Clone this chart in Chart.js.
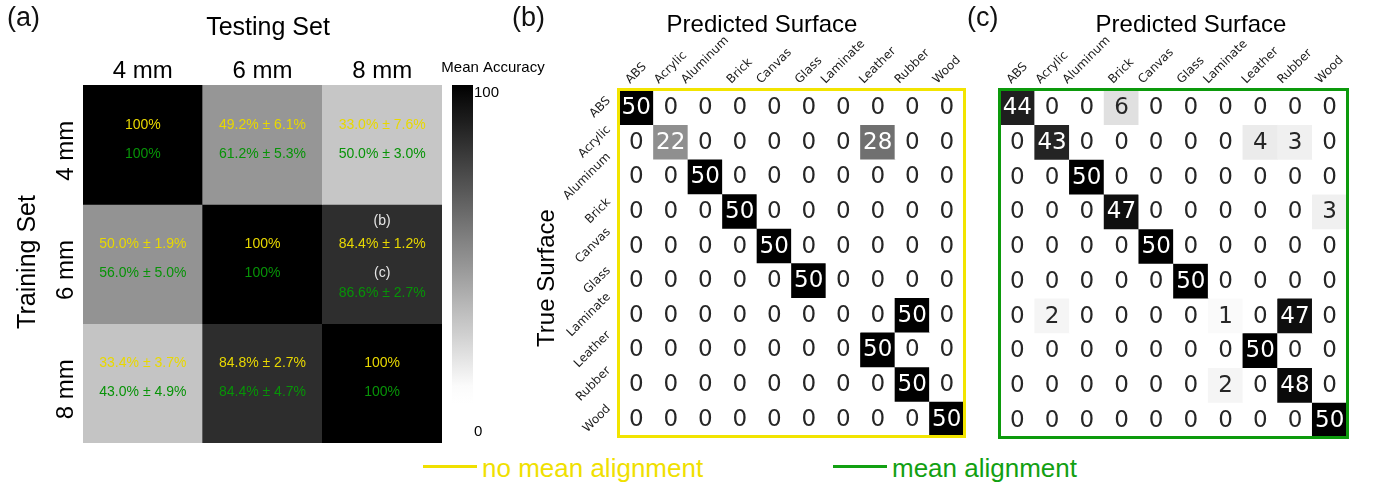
<!DOCTYPE html>
<html>
<head>
<meta charset="utf-8">
<title>Surface classification accuracy</title>
<script src="https://cdn.jsdelivr.net/npm/chart.js@4.4.1/dist/chart.umd.min.js"></script>
<style>
  body { margin: 0; background: #fff; font-family: 'Liberation Sans', Arial, sans-serif; }
  #wrap { position: relative; width: 1375px; height: 485px; overflow: hidden; }
  canvas { position: absolute; top: 0; }
  .panel { position: absolute; top: 4px; font-size: 27px; line-height: 27px; color: #111; }
  .key { position: absolute; top: 455px; font-size: 26px; line-height: 26px; white-space: nowrap; }
  .key-line { position: absolute; top: 465px; width: 54px; height: 3px; }
</style>
</head>
<body>
<div id="wrap">
  <canvas id="accChart" width="560" height="450" style="left:0"></canvas>
  <canvas id="rawChart" width="480" height="450" style="left:500px"></canvas>
  <canvas id="alignedChart" width="395" height="450" style="left:980px"></canvas>
  <div class="panel" style="left:7px">(a)</div>
  <div class="panel" style="left:512px">(b)</div>
  <div class="panel" style="left:967px">(c)</div>
  <div class="key-line" style="left:423px;background:#f0e000"></div>
  <div class="key" style="left:482px;color:#f0e000">no mean alignment</div>
  <div class="key-line" style="left:833px;background:#12a012"></div>
  <div class="key" style="left:892px;color:#12a012">mean alignment</div>
</div>
<script>
// (a) cross-size accuracy, rows = training set, cols = testing set
const trainSizes = ['4 mm', '6 mm', '8 mm'];
const testSizes = ['4 mm', '6 mm', '8 mm'];
const accNoAlign = [[100, 49.2, 33.0], [50.0, 100, 84.4], [33.4, 84.8, 100]];
const sdNoAlign = [[0, 6.1, 7.6], [1.9, 0, 1.2], [3.7, 2.7, 0]];
const accAlign = [[100, 61.2, 50.0], [56.0, 100, 86.6], [43.0, 84.4, 100]];
const sdAlign = [[0, 5.3, 3.0], [5.0, 0, 2.7], [4.9, 4.7, 0]];
const colorbarTicks = [0, 100];
const refCell = { row: 1, col: 2, tags: ['(b)', '(c)'] };

// (b) and (c) confusion matrices, rows = true surface, cols = predicted
const surfaces = ['ABS', 'Acrylic', 'Aluminum', 'Brick', 'Canvas', 'Glass', 'Laminate', 'Leather', 'Rubber', 'Wood'];
const confNoAlign = [
    [50, 0, 0, 0, 0, 0, 0, 0, 0, 0],
    [0, 22, 0, 0, 0, 0, 0, 28, 0, 0],
    [0, 0, 50, 0, 0, 0, 0, 0, 0, 0],
    [0, 0, 0, 50, 0, 0, 0, 0, 0, 0],
    [0, 0, 0, 0, 50, 0, 0, 0, 0, 0],
    [0, 0, 0, 0, 0, 50, 0, 0, 0, 0],
    [0, 0, 0, 0, 0, 0, 0, 0, 50, 0],
    [0, 0, 0, 0, 0, 0, 0, 50, 0, 0],
    [0, 0, 0, 0, 0, 0, 0, 0, 50, 0],
    [0, 0, 0, 0, 0, 0, 0, 0, 0, 50]
];
const confAlign = [
    [44, 0, 0, 6, 0, 0, 0, 0, 0, 0],
    [0, 43, 0, 0, 0, 0, 0, 4, 3, 0],
    [0, 0, 50, 0, 0, 0, 0, 0, 0, 0],
    [0, 0, 0, 47, 0, 0, 0, 0, 0, 3],
    [0, 0, 0, 0, 50, 0, 0, 0, 0, 0],
    [0, 0, 0, 0, 0, 50, 0, 0, 0, 0],
    [0, 2, 0, 0, 0, 0, 1, 0, 47, 0],
    [0, 0, 0, 0, 0, 0, 0, 50, 0, 0],
    [0, 0, 0, 0, 0, 0, 2, 0, 48, 0],
    [0, 0, 0, 0, 0, 0, 0, 0, 0, 50]
];

const SANS = '"Liberation Sans", Arial, sans-serif';
const DEJAVU = '"DejaVu Sans", sans-serif';
const YELLOW_TXT = '#e8d800';
const GREEN_TXT = '#079307';

function grey(t) {
    const g = Math.round(255 * Math.min(1, Math.max(0, t)));
    return `rgb(${g},${g},${g})`;
}
// accuracy shade: 100 -> black, fades to white near the low end
const accShade = v => grey((100 - v) / 86.5);
const countShade = n => grey(1 - n / 50);

function fmtAcc(m, s) {
    return s ? `${m.toFixed(1)}% ± ${s.toFixed(1)}%` : `${m}%`;
}

function rotatedText(ctx, text, x, y, angle) {
    ctx.save();
    ctx.translate(x, y);
    ctx.rotate(angle);
    ctx.textAlign = 'center';
    ctx.textBaseline = 'middle';
    ctx.fillText(text, 0, 0);
    ctx.restore();
}

// one floating bar per cell, row r spans r..r+1 on a reversed linear y
function heatDatasets(matrix, shade) {
    return matrix.map((row, r) => ({
        data: row.map(() => [r, r + 1]),
        backgroundColor: row.map(shade),
        borderWidth: 0,
        grouped: false,
        barPercentage: 1,
        categoryPercentage: 1
    }));
}

function heatOptions(nRows, padding) {
    return {
        responsive: false,
        animation: false,
        layout: { padding: padding },
        plugins: { legend: { display: false }, tooltip: { enabled: false } },
        scales: {
            x: { display: false, offset: true },
            y: { display: false, min: 0, max: nRows, reverse: true }
        }
    };
}

const accLabels = {
    id: 'accLabels',
    afterDatasetsDraw(chart) {
        const ctx = chart.ctx;
        const area = chart.chartArea;
        const xs = chart.scales.x;
        const ys = chart.scales.y;
        ctx.save();

        // cell texts
        ctx.font = '14px ' + SANS;
        ctx.textAlign = 'center';
        ctx.textBaseline = 'middle';
        accNoAlign.forEach((row, r) => {
            const meta = chart.getDatasetMeta(r);
            row.forEach((v, c) => {
                const p = meta.data[c].getCenterPoint();
                const tagged = r === refCell.row && c === refCell.col;
                if (tagged) {
                    ctx.fillStyle = '#e6e6e6';
                    ctx.fillText(refCell.tags[0], p.x, p.y - 43);
                    ctx.fillText(refCell.tags[1], p.x, p.y + 9);
                }
                ctx.fillStyle = YELLOW_TXT;
                ctx.fillText(fmtAcc(v, sdNoAlign[r][c]), p.x, p.y - 20);
                ctx.fillStyle = GREEN_TXT;
                ctx.fillText(fmtAcc(accAlign[r][c], sdAlign[r][c]), p.x, p.y + (tagged ? 29 : 9));
            });
        });

        // axis labels
        ctx.fillStyle = '#000';
        ctx.font = '25px ' + SANS;
        ctx.fillText('Testing Set', 268, 28);
        rotatedText(ctx, 'Training Set', 28, 262, -Math.PI / 2);
        ctx.font = '24px ' + SANS;
        testSizes.forEach((s, c) => ctx.fillText(s, xs.getPixelForValue(c), 71));
        trainSizes.forEach((s, r) => rotatedText(ctx, s, 66, ys.getPixelForValue(r + 0.5) + 6, -Math.PI / 2));

        // colorbar
        const cbL = area.right + 10, cbW = 21, cbT = area.top, cbB = area.bottom - 4;
        const grad = ctx.createLinearGradient(0, cbT, 0, cbB);
        for (let k = 0; k <= 20; k++) grad.addColorStop(k / 20, accShade(100 - k * 5));
        ctx.fillStyle = grad;
        ctx.fillRect(cbL, cbT, cbW, cbB - cbT);
        ctx.fillStyle = '#000';
        ctx.font = '15px ' + SANS;
        ctx.fillText('Mean Accuracy', 493, 68);
        ctx.textAlign = 'left';
        colorbarTicks.forEach(t => {
            const y = cbB - (t / 100) * (cbB - cbT);
            ctx.textBaseline = t === 100 ? 'top' : 'bottom';
            ctx.fillText(String(t), cbL + cbW + 1, y);
        });
        ctx.restore();
    }
};

function confLabels(matrix, opts) {
    return {
        id: 'confLabels',
        afterDatasetsDraw(chart) {
            const ctx = chart.ctx;
            const area = chart.chartArea;
            const xs = chart.scales.x;
            const ys = chart.scales.y;
            ctx.save();

            // counts
            ctx.font = '23px ' + DEJAVU;
            ctx.textAlign = 'center';
            ctx.textBaseline = 'middle';
            matrix.forEach((row, r) => {
                const meta = chart.getDatasetMeta(r);
                row.forEach((n, c) => {
                    const p = meta.data[c].getCenterPoint();
                    ctx.fillStyle = n >= 20 ? '#fff' : '#262626';
                    ctx.fillText(String(n), p.x, p.y + 1);
                });
            });

            // coloured frame
            ctx.strokeStyle = opts.frame;
            ctx.lineWidth = 3;
            ctx.strokeRect(area.left - 0.5, area.top - 0.5, area.width + 1, area.height + 1);

            // 45 degree surface names
            ctx.font = '12px ' + DEJAVU;
            ctx.fillStyle = '#1a1a1a';
            surfaces.forEach((s, i) => {
                const side = (ctx.measureText(s).width + 12) * Math.SQRT1_2;
                rotatedText(ctx, s, xs.getPixelForValue(i), area.top - 4 - side / 2, -Math.PI / 4);
                if (opts.rowLabels) {
                    rotatedText(ctx, s, area.left - 6 - side / 2, ys.getPixelForValue(i + 0.5), -Math.PI / 4);
                }
            });

            ctx.fillStyle = '#000';
            ctx.font = '24px ' + SANS;
            ctx.fillText('Predicted Surface', opts.titleX, 25);
            if (opts.rowLabels) rotatedText(ctx, 'True Surface', 47, 278, -Math.PI / 2);
            ctx.restore();
        }
    };
}

document.addEventListener('DOMContentLoaded', function () {
    new Chart(document.getElementById('accChart'), {
        type: 'bar',
        data: { labels: testSizes, datasets: heatDatasets(accNoAlign, accShade) },
        options: heatOptions(trainSizes.length, { left: 83, top: 85, right: 118, bottom: 7 }),
        plugins: [accLabels]
    });

    new Chart(document.getElementById('rawChart'), {
        type: 'bar',
        data: { labels: surfaces, datasets: heatDatasets(confNoAlign, countShade) },
        options: heatOptions(surfaces.length, { left: 119, top: 90, right: 16, bottom: 14 }),
        plugins: [confLabels(confNoAlign, { frame: '#f2e400', rowLabels: true, titleX: 262 })]
    });

    new Chart(document.getElementById('alignedChart'), {
        type: 'bar',
        data: { labels: surfaces, datasets: heatDatasets(confAlign, countShade) },
        options: heatOptions(surfaces.length, { left: 20, top: 90, right: 28, bottom: 13 }),
        plugins: [confLabels(confAlign, { frame: '#0c9a0c', rowLabels: false, titleX: 211 })]
    });
});
</script>
</body>
</html>
